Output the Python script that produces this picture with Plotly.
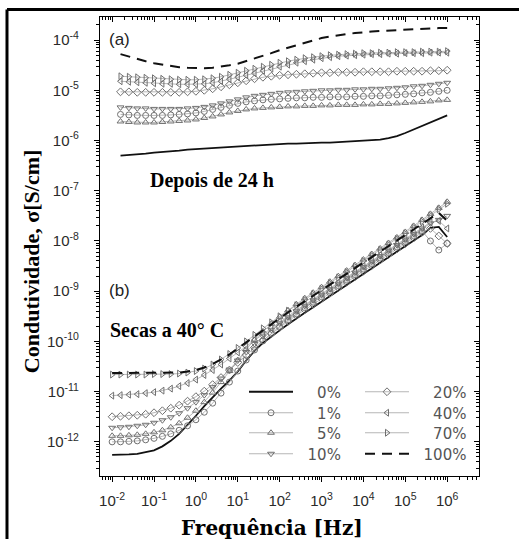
import plotly.graph_objects as go

# Frequency sweep (Hz), five points per decade
freq_hz = [0.01, 0.01585, 0.02512, 0.03981, 0.0631, 0.1, 0.1585, 0.2512, 0.3981, 0.631,
           1.0, 1.585, 2.512, 3.981, 6.31, 10.0, 15.85, 25.12, 39.81, 63.1,
           100.0, 158.5, 251.2, 398.1, 631.0, 1000.0, 1585.0, 2512.0, 3981.0, 6310.0,
           1e4, 1.585e4, 2.512e4, 3.981e4, 6.31e4, 1e5, 1.585e5, 2.512e5, 3.981e5, 6.31e5, 1e6]
# the 24 h sweep starts one step later
freq_hz_24h = freq_hz[1:]

# Conductivity sigma (S/cm), written as powers of ten.
# (a) after 24 h
sig_24h_0 = [-6.30, -6.29, -6.27, -6.26, -6.24, -6.23, -6.21, -6.20, -6.18, -6.17,
             -6.16, -6.14, -6.13, -6.12, -6.11, -6.10, -6.09, -6.08, -6.07, -6.07,
             -6.06, -6.06, -6.05, -6.05, -6.04, -6.04, -6.03, -6.03, -6.02, -6.01,
             -6.00, -5.98, -5.95, -5.91, -5.85, -5.78, -5.70, -5.63, -5.56, -5.50]
sig_24h_1 = [-5.48, -5.49, -5.50, -5.50, -5.50, -5.50, -5.49, -5.48, -5.47, -5.45,
             -5.42, -5.38, -5.34, -5.30, -5.26, -5.23, -5.21, -5.19, -5.18, -5.17,
             -5.16, -5.15, -5.15, -5.14, -5.14, -5.13, -5.13, -5.13, -5.12, -5.12,
             -5.11, -5.11, -5.10, -5.09, -5.08, -5.07, -5.05, -5.04, -5.02, -5.00]
sig_24h_5 = [-5.62, -5.63, -5.64, -5.64, -5.64, -5.63, -5.62, -5.61, -5.60, -5.58,
             -5.55, -5.52, -5.48, -5.44, -5.41, -5.38, -5.36, -5.35, -5.34, -5.33,
             -5.32, -5.32, -5.31, -5.31, -5.30, -5.30, -5.29, -5.29, -5.29, -5.28,
             -5.28, -5.27, -5.27, -5.26, -5.25, -5.24, -5.23, -5.22, -5.20, -5.19]
sig_24h_10 = [-5.34, -5.35, -5.36, -5.36, -5.37, -5.37, -5.37, -5.37, -5.36, -5.35,
              -5.33, -5.30, -5.26, -5.22, -5.18, -5.14, -5.11, -5.09, -5.07, -5.05,
              -5.04, -5.03, -5.02, -5.01, -5.00, -5.00, -4.99, -4.99, -4.98, -4.98,
              -4.97, -4.97, -4.96, -4.95, -4.94, -4.92, -4.91, -4.89, -4.87, -4.85]
sig_24h_20 = [-5.03, -5.03, -5.04, -5.04, -5.04, -5.04, -5.04, -5.04, -5.03, -5.02,
              -5.00, -4.97, -4.93, -4.89, -4.85, -4.81, -4.77, -4.74, -4.72, -4.70,
              -4.69, -4.68, -4.67, -4.66, -4.65, -4.65, -4.64, -4.64, -4.64, -4.63,
              -4.63, -4.63, -4.63, -4.62, -4.62, -4.62, -4.62, -4.61, -4.61, -4.60]
sig_24h_40 = [-4.82, -4.83, -4.84, -4.85, -4.86, -4.87, -4.87, -4.88, -4.88, -4.88,
              -4.87, -4.85, -4.82, -4.78, -4.74, -4.70, -4.66, -4.61, -4.57, -4.53,
              -4.49, -4.45, -4.42, -4.39, -4.36, -4.34, -4.32, -4.31, -4.30, -4.29,
              -4.28, -4.28, -4.27, -4.27, -4.26, -4.26, -4.26, -4.25, -4.25, -4.25]
sig_24h_70 = [-4.72, -4.73, -4.74, -4.75, -4.76, -4.77, -4.78, -4.79, -4.79, -4.79,
              -4.78, -4.76, -4.73, -4.69, -4.65, -4.61, -4.57, -4.53, -4.49, -4.45,
              -4.42, -4.39, -4.36, -4.34, -4.32, -4.30, -4.29, -4.28, -4.27, -4.26,
              -4.26, -4.25, -4.25, -4.24, -4.24, -4.24, -4.23, -4.23, -4.23, -4.22]
sig_24h_100 = [-4.28, -4.33, -4.38, -4.42, -4.46, -4.49, -4.52, -4.54, -4.55, -4.56,
               -4.56, -4.55, -4.53, -4.50, -4.47, -4.42, -4.37, -4.31, -4.26, -4.20,
               -4.15, -4.10, -4.05, -4.00, -3.96, -3.93, -3.90, -3.88, -3.86, -3.84,
               -3.83, -3.82, -3.81, -3.80, -3.79, -3.78, -3.77, -3.77, -3.76, -3.76]

# (b) dried at 40 °C
sig_40c_0 = [-12.26, -12.26, -12.25, -12.24, -12.21, -12.17, -12.09, -11.98, -11.84, -11.67,
             -11.48, -11.29, -11.11, -10.94, -10.78, -10.60, -10.38, -10.19, -10.03, -9.90,
             -9.78, -9.66, -9.54, -9.43, -9.32, -9.21, -9.10, -8.99, -8.88, -8.77,
             -8.66, -8.55, -8.44, -8.33, -8.22, -8.11, -8.00, -7.88, -7.74, -7.72, -7.92]
sig_40c_1 = [-12.00, -12.00, -11.99, -11.98, -11.96, -11.93, -11.89, -11.84, -11.77, -11.68,
             -11.56, -11.41, -11.23, -11.03, -10.81, -10.59, -10.37, -10.17, -9.99, -9.84,
             -9.70, -9.57, -9.45, -9.33, -9.22, -9.11, -9.00, -8.89, -8.78, -8.67,
             -8.56, -8.45, -8.34, -8.23, -8.12, -8.01, -7.90, -7.80, -8.00, -8.18, -8.05]
sig_40c_5 = [-11.88, -11.88, -11.87, -11.86, -11.84, -11.81, -11.77, -11.71, -11.63, -11.52,
             -11.38, -11.21, -11.02, -10.81, -10.59, -10.37, -10.16, -9.97, -9.80, -9.65,
             -9.51, -9.38, -9.26, -9.14, -9.03, -8.92, -8.81, -8.70, -8.59, -8.48,
             -8.37, -8.26, -8.15, -8.04, -7.93, -7.82, -7.70, -7.58, -7.46, -7.34, -7.22]
sig_40c_10 = [-11.72, -11.71, -11.70, -11.68, -11.66, -11.62, -11.57, -11.51, -11.43, -11.33,
              -11.21, -11.07, -10.91, -10.74, -10.56, -10.38, -10.21, -10.05, -9.90, -9.77,
              -9.64, -9.52, -9.40, -9.29, -9.18, -9.07, -8.96, -8.85, -8.74, -8.63,
              -8.52, -8.41, -8.30, -8.19, -8.08, -7.97, -7.86, -7.75, -7.65, -7.58, -7.50]
sig_40c_20 = [-11.50, -11.49, -11.48, -11.47, -11.45, -11.42, -11.38, -11.33, -11.27, -11.19,
              -11.10, -10.99, -10.86, -10.72, -10.57, -10.42, -10.27, -10.12, -9.98, -9.85,
              -9.72, -9.60, -9.48, -9.37, -9.26, -9.15, -9.04, -8.93, -8.82, -8.71,
              -8.60, -8.49, -8.38, -8.27, -8.16, -8.05, -7.94, -7.83, -7.75, -7.90, -8.05]
sig_40c_40 = [-11.08, -11.07, -11.06, -11.05, -11.03, -11.01, -10.98, -10.94, -10.89, -10.83,
              -10.76, -10.67, -10.57, -10.46, -10.34, -10.22, -10.10, -9.97, -9.85, -9.73,
              -9.61, -9.49, -9.38, -9.27, -9.16, -9.05, -8.94, -8.83, -8.72, -8.61,
              -8.50, -8.39, -8.28, -8.17, -8.06, -7.95, -7.84, -7.73, -7.63, -7.60, -7.75]
sig_40c_70 = [-10.66, -10.66, -10.66, -10.66, -10.66, -10.65, -10.65, -10.65, -10.64, -10.62,
              -10.59, -10.54, -10.46, -10.36, -10.25, -10.13, -10.00, -9.87, -9.74, -9.62,
              -9.50, -9.39, -9.28, -9.17, -9.06, -8.95, -8.84, -8.73, -8.62, -8.51,
              -8.40, -8.29, -8.18, -8.07, -7.96, -7.85, -7.73, -7.61, -7.49, -7.37, -7.26]
sig_40c_100 = [-10.63, -10.63, -10.63, -10.63, -10.63, -10.63, -10.63, -10.62, -10.62, -10.60,
               -10.57, -10.52, -10.45, -10.36, -10.26, -10.14, -10.02, -9.89, -9.77, -9.65,
               -9.53, -9.42, -9.31, -9.20, -9.09, -8.98, -8.87, -8.76, -8.65, -8.54,
               -8.43, -8.32, -8.21, -8.10, -7.99, -7.88, -7.77, -7.66, -7.56, -7.44, -7.60]

# Legend labels (figure spaces keep the percentages right-aligned)
labels = ["0%", "1%", "5%", "10%", "20%", "40%", "70%", "100%"]
legend_text = ["\u2007\u20070%", "\u2007\u20071%", "\u2007\u20075%", "\u200710%",
               "\u2007\u200720%", "\u2007\u200740%", "\u2007\u200770%", "\u2007100%"]
curves_24h = [sig_24h_0, sig_24h_1, sig_24h_5, sig_24h_10,
              sig_24h_20, sig_24h_40, sig_24h_70, sig_24h_100]
curves_40c = [sig_40c_0, sig_40c_1, sig_40c_5, sig_40c_10,
              sig_40c_20, sig_40c_40, sig_40c_70, sig_40c_100]

# Tick labels
x_tick_labels = ["10<sup>-2</sup>", "10<sup>-1</sup>", "10<sup>0</sup>", "10<sup>1</sup>",
                 "10<sup>2</sup>", "10<sup>3</sup>", "10<sup>4</sup>", "10<sup>5</sup>",
                 "10<sup>6</sup>"]
y_tick_labels = ["10<sup>-12</sup>", "10<sup>-11</sup>", "10<sup>-10</sup>", "10<sup>-9</sup>",
                 "10<sup>-8</sup>", "10<sup>-7</sup>", "10<sup>-6</sup>", "10<sup>-5</sup>",
                 "10<sup>-4</sup>"]

# ---- styling -------------------------------------------------------------
MARK_GRAY = "#6f6f6f"
LINE_GRAY = "#a3a3a3"


def marker_style(symbol):
    return dict(mode="lines+markers",
                line=dict(color=LINE_GRAY, width=0.8),
                marker=dict(symbol=symbol, size=6, color=MARK_GRAY,
                            line=dict(width=1, color=MARK_GRAY)))


styles = {
    "0%": dict(mode="lines", line=dict(color="#111111", width=1.8)),
    "1%": marker_style("circle-open"),
    "5%": marker_style("triangle-up-open"),
    "10%": marker_style("triangle-down-open"),
    "20%": marker_style("diamond-open"),
    "40%": marker_style("triangle-left-open"),
    "70%": marker_style("triangle-right-open"),
    "100%": dict(mode="lines", line=dict(color="#111111", width=2, dash="10px,7px")),
}

# legend box: two columns of four entries, one legend per entry
PLOT_L, PLOT_W, PLOT_B, PLOT_H = 100, 379, 476, 459
col_left_px = [244, 244, 244, 244, 360, 360, 360, 360]
row_mid_px = [392, 413, 433, 454, 392, 413, 433, 454]
legend_ids = ["legend", "legend2", "legend3", "legend4",
              "legend5", "legend6", "legend7", "legend8"]

fig = go.Figure()
for lab, txt, a_vals, b_vals, lid in zip(labels, legend_text, curves_24h, curves_40c,
                                         legend_ids):
    st = styles[lab]
    fig.add_trace(go.Scatter(x=freq_hz_24h, y=[10.0 ** v for v in a_vals],
                             name=txt, legendgroup=lab, legend=lid,
                             hoverinfo="skip", **st))
    fig.add_trace(go.Scatter(x=freq_hz, y=[10.0 ** v for v in b_vals],
                             name=txt, legendgroup=lab, legend=lid,
                             showlegend=False, hoverinfo="skip", **st))

# empty trace that carries the top/right mirror axes
fig.add_trace(go.Scatter(x=[], y=[], xaxis="x2", yaxis="y2",
                         showlegend=False, hoverinfo="skip"))

x_range = [-2.29, 6.76]
y_range = [-12.68, -3.54]
x_major = [10.0 ** e for e in range(-2, 7)]
y_major = [10.0 ** e for e in range(-12, -3)]
x_minor = [m * 10.0 ** e for e in range(-3, 7) for m in range(2, 10)]
y_minor = [m * 10.0 ** e for e in range(-13, -3) for m in range(2, 10)]

TICK_FONT = dict(family="Liberation Sans, Arial, sans-serif", size=15, color="#2a2a2a")
LEGEND_FONT = dict(family="DejaVu Sans, sans-serif", size=15, color="#555555")

common = dict(type="log", showgrid=False, zeroline=False, showline=True,
              linecolor="black", linewidth=1.2, tickcolor="black", tickwidth=1)

fig.update_layout(
    width=519, height=539,
    margin=dict(l=PLOT_L, r=519 - PLOT_L - PLOT_W, t=PLOT_B - PLOT_H, b=539 - PLOT_B, pad=0),
    paper_bgcolor="white", plot_bgcolor="white",
    xaxis=dict(**common, range=x_range, tickmode="array", tickvals=x_major,
               ticktext=x_tick_labels, ticks="outside", ticklen=5,
               minor=dict(tickmode="array", tickvals=x_minor, ticks="outside",
                          ticklen=3, tickcolor="black", showgrid=False),
               tickfont=TICK_FONT, ticklabelstandoff=6),
    yaxis=dict(**common, range=y_range, tickmode="array", tickvals=y_major,
               ticktext=y_tick_labels, ticks="outside", ticklen=5,
               minor=dict(tickmode="array", tickvals=y_minor, ticks="outside",
                          ticklen=3, tickcolor="black", showgrid=False),
               tickfont=TICK_FONT, ticklabelstandoff=12),
    xaxis2=dict(**common, range=x_range, overlaying="x", side="top", anchor="y2",
                tickmode="array", tickvals=x_major, ticks="inside", ticklen=5,
                showticklabels=False,
                minor=dict(tickmode="array", tickvals=x_minor, ticks="inside",
                           ticklen=3, tickcolor="black", showgrid=False)),
    yaxis2=dict(**common, range=y_range, overlaying="y", side="right", anchor="x2",
                tickmode="array", tickvals=y_major, ticks="inside", ticklen=5,
                showticklabels=False,
                minor=dict(tickmode="array", tickvals=y_minor, ticks="inside",
                           ticklen=3, tickcolor="black", showgrid=False)),
    showlegend=True,
)

for lid, cx, cy in zip(legend_ids, col_left_px, row_mid_px):
    fig.update_layout({lid: dict(
        orientation="v", traceorder="normal", tracegroupgap=0, itemwidth=44,
        x=(cx - PLOT_L) / PLOT_W, xanchor="left",
        y=(PLOT_B - cy) / PLOT_H, yanchor="middle",
        bgcolor="rgba(0,0,0,0)", borderwidth=0, font=LEGEND_FONT)})

SERIF = "Liberation Serif, Times New Roman, serif"
fig.add_annotation(text="Condutividade, σ[S/cm]", textangle=-90,
                   xref="paper", yref="paper", x=-0.182, y=0.466,
                   xanchor="center", yanchor="middle", showarrow=False,
                   font=dict(family=SERIF, size=22, color="black", weight="bold"))
fig.add_annotation(text="Frequência [Hz]", xref="paper", yref="paper",
                   x=0.454, y=-0.113, xanchor="center", yanchor="middle",
                   showarrow=False,
                   font=dict(family="DejaVu Serif, serif", size=20, color="black",
                             weight="bold"))
fig.add_annotation(text="(a)", xref="paper", yref="paper", x=0.018, y=0.95,
                   xanchor="left", yanchor="middle", showarrow=False,
                   font=dict(family="Liberation Sans, Arial, sans-serif", size=17,
                             color="#222"))
fig.add_annotation(text="(b)", xref="paper", yref="paper", x=0.018, y=0.405,
                   xanchor="left", yanchor="middle", showarrow=False,
                   font=dict(family="Liberation Sans, Arial, sans-serif", size=17,
                             color="#222"))
fig.add_annotation(text="Depois de 24 h", xref="paper", yref="paper", x=0.127, y=0.643,
                   xanchor="left", yanchor="middle", showarrow=False,
                   font=dict(family=SERIF, size=20, color="black", weight="bold"))
fig.add_annotation(text="Secas a 40° C", xref="paper", yref="paper", x=0.021, y=0.318,
                   xanchor="left", yanchor="middle", showarrow=False,
                   font=dict(family=SERIF, size=20, color="black", weight="bold"))

# outer frame: top and left rules
fig.add_shape(type="line", xref="paper", yref="paper", x0=-0.2454, x1=1.13,
              y0=1.0163, y1=1.0163, line=dict(color="black", width=3))
fig.add_shape(type="line", xref="paper", yref="paper", x0=-0.2454, x1=-0.2454,
              y0=1.0163, y1=-0.16, line=dict(color="black", width=3))

fig.write_html("out.html")
